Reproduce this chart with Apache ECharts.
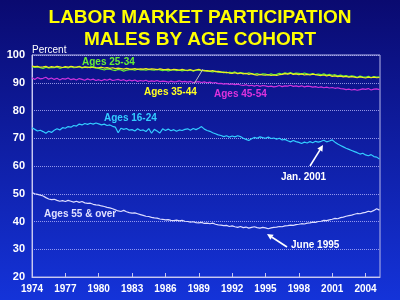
<!DOCTYPE html>
<html><head><meta charset="utf-8">
<script src="https://cdn.jsdelivr.net/npm/echarts@6/dist/echarts.min.js"></script>
<style>html,body{margin:0;padding:0;background:#0a0a70}#c{width:400px;height:300px}</style>
</head><body><div id="c"></div>
<script>
// Quarterly readings, starting 1974 Q1
const startYear = 1974;
const yTicks = [20, 30, 40, 50, 60, 70, 80, 90, 100];
const xTickYears = [1974, 1977, 1980, 1983, 1986, 1989, 1992, 1995, 1998, 2001, 2004];

const ages25_34 = [
95.8,95.5,95.7,95.4, 95.2,95.6,95.3,95.5, 95.4,95.7,95.2,95.5, 95.6,95.3,95.8,95.4,
95.5,95.9,95.3,95.6, 95.4,95.7,95.5,95.3, 95.2,94.9,94.6,95.0, 94.9,94.6,94.4,94.8,
94.6,94.2,94.5,94.7, 94.8,94.5,94.9,94.6, 94.7,94.5,94.8,94.6, 94.5,94.8,94.6,94.4,
94.6,94.3,94.5,94.7, 94.4,94.6,94.3,94.5, 94.4,94.6,94.2,94.5, 94.6,94.3,94.5,94.2,
94.1,93.9,94.2,93.8, 93.7,93.9,93.5,93.8, 93.6,93.9,93.4,93.7, 93.5,93.2,93.6,93.3,
93.0,93.3,92.9,93.2, 93.1,92.8,93.2,92.9, 93.0,93.4,93.1,93.6, 93.3,93.7,93.2,93.5,
93.4,93.1,93.5,93.2, 93.0,93.3,92.9,93.1, 92.9,93.2,92.8,93.0, 92.7,92.9,92.5,92.8,
92.4,92.6,92.2,92.5, 92.3,92.0,92.4,92.1, 92.0,92.3,91.9,92.2, 92.0,92.1];

const ages35_44 = [
96.0,95.8,95.9,95.6, 95.7,95.9,95.5,95.8, 95.6,95.9,95.7,95.5, 95.8,95.6,95.9,95.7,
95.6,95.8,95.5,95.7, 95.6,95.4,95.7,95.5, 95.4,95.6,95.3,95.5, 95.2,95.4,95.1,95.3,
95.1,94.9,95.2,95.0, 94.9,95.1,94.8,95.0, 94.9,95.1,94.8,95.0, 94.9,94.7,95.0,94.8,
94.7,94.9,94.6,94.8, 94.7,94.5,94.8,94.6, 94.5,94.7,94.4,94.6, 94.8,94.5,94.3,94.4,
94.2,94.4,94.0,94.1, 93.9,93.6,93.8,93.5, 93.4,93.6,93.3,93.5, 93.2,93.4,93.0,93.3,
92.9,92.7,93.0,92.8, 92.7,92.9,92.6,92.8, 92.6,92.9,93.0,93.3, 93.1,93.4,93.0,93.2,
92.9,93.2,92.8,93.0, 92.8,93.1,92.9,92.7, 92.6,92.8,92.5,92.7, 92.3,92.5,92.2,92.4,
92.1,92.3,92.0,92.2, 92.0,91.8,92.1,91.9, 91.7,92.0,91.8,92.0, 91.8,91.9];

const ages45_54 = [
91.8,91.2,91.9,91.4, 91.6,92.0,91.3,91.7, 91.2,91.6,91.0,91.5, 91.3,91.7,91.1,91.4,
91.0,91.5,91.2,90.9, 91.4,91.0,91.3,90.8, 91.1,90.7,91.2,90.9, 91.3,90.8,91.0,91.2,
90.8,91.1,90.6,91.0, 90.7,91.0,90.5,90.8, 90.6,90.9,90.4,90.7, 90.5,90.8,90.4,90.6,
90.5,90.2,90.6,90.3, 90.4,90.7,90.3,90.5, 90.2,90.5,90.1,90.3, 90.4,90.1,90.3,90.0,
90.2,89.9,90.1,89.7, 89.8,89.5,89.7,89.4, 89.6,89.3,89.5,89.2, 89.0,89.3,88.9,89.1,
88.8,89.1,88.7,89.0, 88.9,88.6,88.8,88.5, 88.7,89.0,88.6,88.9, 88.8,89.1,88.7,88.9,
88.6,88.9,88.5,88.8, 88.7,88.4,88.6,88.3, 88.5,88.2,88.4,88.1, 88.3,88.0,88.2,87.9,
87.8,87.5,87.7,87.4, 87.6,87.3,87.5,87.8, 87.6,87.9,87.4,87.7, 87.8,87.5];

const ages16_24 = [
73.8,73.2,72.6,72.9, 72.4,71.8,72.5,72.1, 72.9,73.4,73.0,73.8, 73.6,74.2,74.0,74.6,
74.4,75.1,74.8,75.3, 75.0,75.4,75.1,75.5, 75.2,74.8,75.1,74.6, 74.8,74.3,74.0,72.0,
73.6,73.2,73.5,72.9, 73.1,72.6,73.4,72.8, 73.0,72.4,73.5,71.8, 73.2,72.6,71.9,73.4,
72.8,73.3,72.7,73.1, 72.5,73.0,72.8,73.2, 73.4,72.9,73.5,73.1, 73.6,74.2,73.3,72.8,
72.5,72.0,71.6,71.2, 71.0,70.6,70.9,70.4, 70.8,70.5,70.9,70.6, 70.0,69.6,69.2,69.8,
70.3,70.0,70.5,70.2, 70.0,70.4,69.9,70.1, 69.7,70.0,69.4,69.6, 69.1,68.7,69.2,68.8,
68.5,68.1,68.6,68.3, 68.8,68.4,68.9,68.6, 68.9,69.3,68.7,69.0, 69.4,68.6,67.9,67.4,
66.9,66.4,66.0,65.6, 65.2,64.8,64.3,64.6, 64.0,63.7,64.1,63.4, 63.2,62.5];

const ages55plus = [
50.4,50.0,49.8,49.5, 49.2,48.6,48.1,47.9, 48.0,47.6,47.3,47.5, 47.2,47.6,47.3,47.0,
47.3,46.9,47.2,46.7, 46.5,46.6,46.2,46.0, 45.9,45.6,45.4,45.1, 44.9,44.6,44.2,43.8,
43.6,44.0,43.5,43.2, 43.0,43.1,42.8,42.5, 42.2,41.9,41.8,41.5, 41.3,41.2,40.9,40.8,
40.6,40.7,40.4,40.3, 40.5,40.2,40.4,40.1, 40.0,39.8,39.9,39.6, 39.5,39.7,39.3,39.4,
39.2,39.4,39.0,38.8, 38.7,38.5,38.6,38.2, 38.4,38.1,37.9,38.2, 37.8,38.0,37.6,37.9,
38.1,37.8,37.6,37.9, 37.7,37.4,37.7,37.9, 38.0,38.2,38.1,38.4, 38.5,38.7,38.6,38.9,
39.0,39.2,39.1,39.4, 39.5,39.8,39.7,40.0, 40.1,40.4,40.3,40.6, 40.8,41.1,41.0,41.4,
41.6,41.9,42.1,42.3, 42.6,42.9,42.8,43.1, 43.3,43.7,43.5,44.0, 44.6,44.1];

const seriesNames = ['Ages 25-34','Ages 35-44','Ages 45-54','Ages 16-24','Ages 55 & over'];
const seriesValues = [ages25_34, ages35_44, ages45_54, ages16_24, ages55plus];
const seriesColors = ['#66ee33','#eeee22','#cc33dd','#33ccff','#dcdcff'];

function pairs(vals){ return vals.map((v,i)=>[startYear + i/4, v]); }

const FONT = '"Liberation Sans", Arial, sans-serif';
function label(text, x, y, color, size, weight){
  return {type:'text', z:100, style:{text:text, x:x, y:y, fill:color,
    font:(weight||'bold')+' '+size+'px '+FONT, textAlign:'left', textVerticalAlign:'middle', align:'left', verticalAlign:'middle'}};
}
function arrow(x1,y1,x2,y2,color){
  const dx=x2-x1, dy=y2-y1, L=Math.sqrt(dx*dx+dy*dy), ux=dx/L, uy=dy/L;
  const hl=6, hw=3;
  const bx=x2-ux*hl, by=y2-uy*hl;
  return [
    {type:'line', z:100, shape:{x1:x1,y1:y1,x2:bx,y2:by}, style:{stroke:color, lineWidth:1.6}},
    {type:'polygon', z:100, shape:{points:[[x2,y2],[bx-uy*hw,by+ux*hw],[bx+uy*hw,by-ux*hw]]}, style:{fill:color}}
  ];
}

const chart = echarts.init(document.getElementById('c'), null, {renderer:'canvas'});
chart.setOption({
  animation:false,
  backgroundColor:'transparent',
  title:{text:'LABOR MARKET PARTICIPATION\nMALES BY AGE COHORT', left:'center', top:2,
    textStyle:{color:'#ffff00', fontSize:19, fontWeight:'bold', fontFamily:FONT, lineHeight:22}},
  grid:{left:32, right:20, top:55, bottom:23, show:true, borderColor:'#b8b8e8', borderWidth:1, backgroundColor:'transparent'},
  xAxis:{type:'value', min:1974, max:2005.3, interval:3,
    axisLine:{show:true, lineStyle:{color:'#c8c8f0', width:1}},
    axisTick:{show:true, inside:true, length:4, lineStyle:{color:'#c8c8f0'}},
    splitLine:{show:false},
    axisLabel:{color:'#ffffff', fontWeight:'bold', fontSize:10, fontFamily:FONT, margin:7, showMaxLabel:false,
      formatter:function(v){ return xTickYears.indexOf(Math.round(v*100)/100)>=0 ? String(v) : ''; }}},
  yAxis:{type:'value', min:yTicks[0], max:yTicks[yTicks.length-1], interval:10,
    axisLine:{show:true, lineStyle:{color:'#c8c8f0'}},
    axisTick:{show:false},
    splitLine:{show:true, lineStyle:{color:'rgba(190,190,255,0.75)', type:'dotted', width:1}},
    axisLabel:{color:'#ffffff', fontWeight:'bold', fontSize:11, fontFamily:FONT, margin:7}},
  series: seriesNames.map((n,i)=>({name:n, type:'line', data:pairs(seriesValues[i]), showSymbol:false,
    lineStyle:{color:seriesColors[i], width:1.2}, itemStyle:{color:seriesColors[i]}, z: (i===1?4:2)})),
  graphic:[].concat([
    {type:'rect', z:-100, zlevel:0, silent:true, shape:{x:0,y:0,width:400,height:300},
      style:{fill:new echarts.graphic.LinearGradient(0,0,0,1,[{offset:0,color:'#0a0a70'},{offset:1,color:'#1433d9'}])}},
    label('Percent', 32, 50.5, '#ffffff', 10, 'normal'),
    label('Ages 25-34', 82, 62, '#66ee33', 10),
    label('Ages 35-44', 144, 92.5, '#ffff22', 10),
    label('Ages 45-54', 214, 94.5, '#dd33dd', 10),
    label('Ages 16-24', 104, 118.5, '#33ccff', 10),
    label('Jan. 2001', 281, 177.5, '#ffffff', 10),
    label('June 1995', 291, 245.5, '#ffffff', 10),
    label('Ages 55 & over', 44, 214.5, '#e0e0ff', 10),
    {type:'line', z:100, shape:{x1:194,y1:84,x2:203,y2:69}, style:{stroke:'#c0c0c0', lineWidth:1}}
  ], arrow(310,166,323,145,'#ffffff'), arrow(287,247,267,234,'#ffffff'))
});
</script></body></html>
